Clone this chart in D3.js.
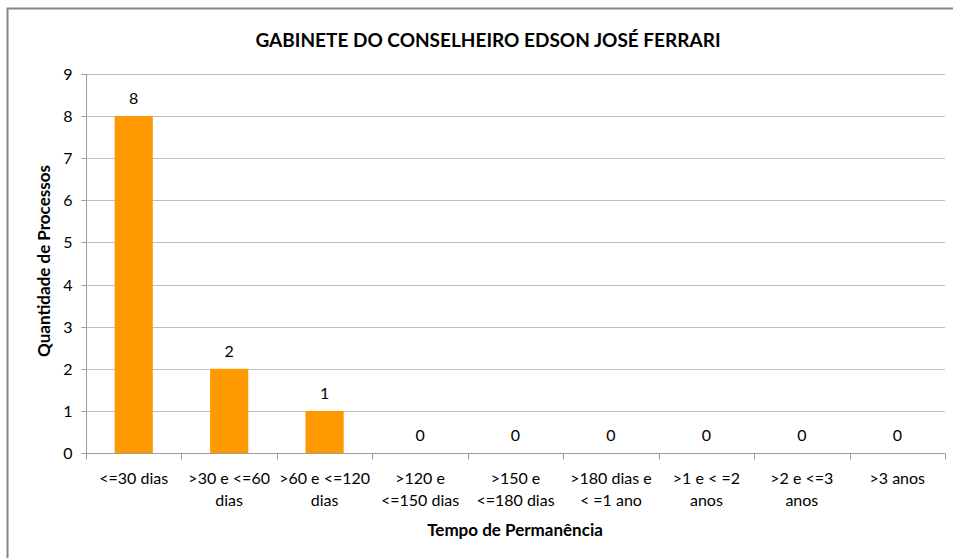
<!DOCTYPE html>
<html>
<head>
<meta charset="utf-8">
<script src="https://cdn.jsdelivr.net/npm/d3@7"></script>
<style>
  html, body { margin: 0; padding: 0; background: #fff; }
  svg { display: block; }
  text { font-family: Lato, "Open Sans", sans-serif; fill: #000; }
</style>
</head>
<body>
<svg id="chart" width="953" height="558"></svg>
<script>
const title = "GABINETE DO CONSELHEIRO EDSON JOSÉ FERRARI";
const categories = [
  ["<=30 dias"],
  [">30 e <=60", "dias"],
  [">60 e <=120", "dias"],
  [">120 e", "<=150 dias"],
  [">150 e", "<=180 dias"],
  [">180 dias e", "< =1 ano"],
  [">1 e < =2", "anos"],
  [">2 e <=3", "anos"],
  [">3 anos"]
];
const values = [8, 2, 1, 0, 0, 0, 0, 0, 0];
const yTicks = [0, 1, 2, 3, 4, 5, 6, 7, 8, 9];
const yTitle = "Quantidade de Processos";
const xTitle = "Tempo de Permanência";

(function () {
const svg = d3.select("#chart");

// outer frame (cut by the picture on right/bottom)
svg.append("rect")
  .attr("x", 7.5).attr("y", 8.5)
  .attr("width", 960).attr("height", 570)
  .attr("fill", "none").attr("stroke", "#868686").attr("stroke-width", 2);

const pLeft = 86, pRight = 945, pTop = 74, pBottom = 453;
const idx = categories.map((d, i) => i);

const x = d3.scaleBand().domain(idx).range([pLeft, pRight]).paddingInner(0.6).paddingOuter(0.3);
const xb = d3.scaleBand().domain(idx).range([pLeft, pRight]);
const y = d3.scaleLinear().domain([0, 9]).range([pBottom, pTop]);

// gridlines
svg.append("g")
  .selectAll("line").data(yTicks.filter(t => t > 0)).join("line")
  .attr("x1", pLeft).attr("x2", pRight)
  .attr("y1", d => Math.round(y(d)) + 0.5).attr("y2", d => Math.round(y(d)) + 0.5)
  .attr("stroke", "#BFBFBF").attr("stroke-width", 1);

// y axis
const yAxis = svg.append("g").attr("transform", `translate(${pLeft + 0.5},0)`)
  .call(d3.axisLeft(y).tickValues(yTicks).tickSize(5).tickPadding(9).tickFormat(d3.format("d")));
yAxis.selectAll("path").attr("stroke", "#9D9D9D").attr("d", `M0,${pTop}V${pBottom}`);
yAxis.selectAll("line").attr("stroke", "#9D9D9D");
yAxis.selectAll("text").style("font-size", "16px").attr("font-family", "Lato, sans-serif");
yAxis.selectAll(".tick").attr("transform", d => `translate(0,${Math.round(y(d)) + 0.5})`);

// bars
svg.append("g").selectAll("rect").data(values).join("rect")
  .attr("x", (d, i) => x(i)).attr("width", x.bandwidth())
  .attr("y", d => y(d)).attr("height", d => y(0) - y(d))
  .attr("fill", "#FF9900");

// x axis
const xAxisG = svg.append("g").attr("transform", `translate(0,${Math.round(y(0)) + 0.5})`);
xAxisG.append("line").attr("x1", pLeft).attr("x2", pRight).attr("stroke", "#9D9D9D");
const xTickPos = idx.map(i => xb(i)).concat([pRight]);
xAxisG.selectAll("line.tk").data(xTickPos).join("line").attr("class", "tk")
  .attr("x1", d => Math.round(d) + 0.5).attr("x2", d => Math.round(d) + 0.5)
  .attr("y1", 0).attr("y2", 6).attr("stroke", "#9D9D9D");

// category labels
const catG = svg.append("g").selectAll("text").data(categories).join("text")
  .attr("x", (d, i) => xb(i) + xb.bandwidth() / 2)
  .attr("y", 484)
  .attr("text-anchor", "middle")
  .style("font-size", "16px");
catG.selectAll("tspan").data(d => d).join("tspan")
  .attr("x", function() { return d3.select(this.parentNode).attr("x"); })
  .attr("dy", (d, j) => j === 0 ? 0 : 22)
  .text(d => d);

// value labels
svg.append("g").selectAll("text").data(values).join("text")
  .attr("x", (d, i) => xb(i) + xb.bandwidth() / 2)
  .attr("y", d => y(d) - 12)
  .attr("text-anchor", "middle")
  .style("font-size", "16px")
  .text(d => d);

// title
svg.append("text").attr("x", 488).attr("y", 47)
  .attr("text-anchor", "middle")
  .style("font-size", "19px").style("font-weight", "bold")
  .text(title);

// axis titles
svg.append("text").attr("x", 515).attr("y", 536)
  .attr("text-anchor", "middle")
  .style("font-size", "17px").style("font-weight", "bold")
  .text(xTitle);

svg.append("text")
  .attr("transform", `translate(50,261) rotate(-90)`)
  .attr("text-anchor", "middle")
  .style("font-size", "17px").style("font-weight", "bold")
  .text(yTitle);
})();
</script>
</body>
</html>
